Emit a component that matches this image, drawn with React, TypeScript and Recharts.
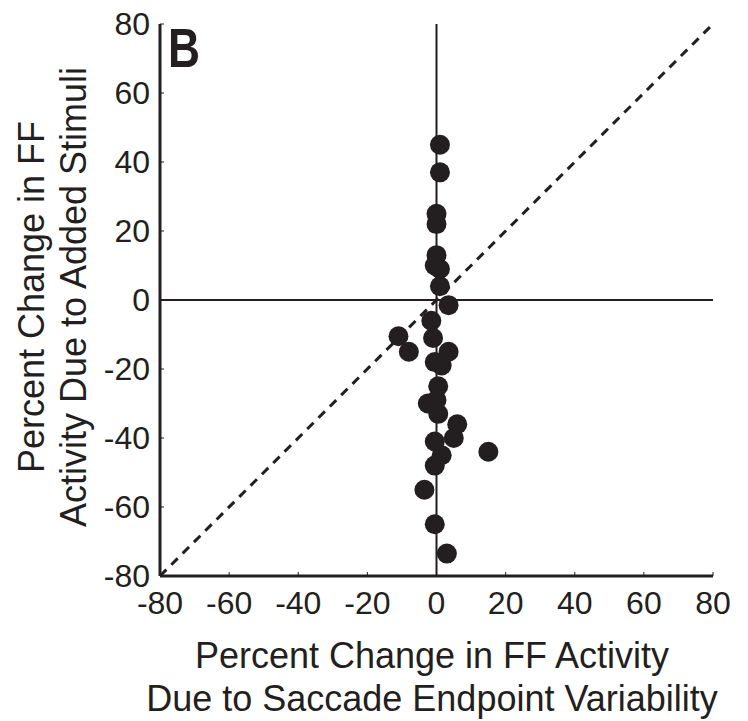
import React from 'react';
import {
  ScatterChart,
  Scatter,
  XAxis,
  YAxis,
  ReferenceLine,
} from 'recharts';

// percent change in FF activity: saccade endpoint variability (x) vs added stimuli (y)
const xValues = [1, 1, 0, 0, 0, -0.5, 1, 1, 3.5, -1.5, -1, -11, -8, 3.5, -0.5, 1.5, 0.5, -2.5, 0, 0.5, 6, 5, -0.5, 1.5, 15, -0.5, -3.5, -0.5, 3];
const yValues = [45, 37, 25, 22, 13, 10, 9, 4, -1.5, -6, -11, -10.5, -15, -15, -18, -19, -25, -30, -29, -33, -36, -40, -41, -45, -44, -48, -55, -65, -73.5];
const axisTicks = [-80, -60, -40, -20, 0, 20, 40, 60, 80];
const diagonal = [-80, 80];

const points = xValues.map((x, i) => ({ x, y: yValues[i] }));

const INK = '#231f20';
const FONT = '"Liberation Sans", Arial, Helvetica, sans-serif';

const Dot = (props: any) => {
  const { cx, cy } = props;
  if (cx == null || cy == null) return null;
  return <circle cx={cx} cy={cy} r={10} fill={INK} />;
};

export default function App() {
  return (
    <div style={{ position: 'absolute', left: 0, top: 0, width: 748, height: 721, background: '#fff' }}>
      <ScatterChart
        width={748}
        height={721}
        margin={{ top: 24, right: 35, left: 100, bottom: 105 }}
      >
        <XAxis
          type="number"
          dataKey="x"
          domain={[-80, 80]}
          ticks={axisTicks}
          allowDataOverflow
          height={40}
          stroke={INK}
          axisLine={{ stroke: INK, strokeWidth: 3 }}
          tickLine={{ stroke: INK, strokeWidth: 1 }}
          tickSize={-4}
          tickMargin={19}
          tick={{ fill: INK, fontSize: 32, fontFamily: FONT }}
        />
        <YAxis
          type="number"
          dataKey="y"
          domain={[-80, 80]}
          ticks={axisTicks}
          allowDataOverflow
          width={60}
          stroke={INK}
          axisLine={{ stroke: INK, strokeWidth: 3 }}
          tickLine={{ stroke: INK, strokeWidth: 1 }}
          tickSize={-4}
          tickMargin={14}
          tick={{ fill: INK, fontSize: 32, fontFamily: FONT }}
        />
        <ReferenceLine x={0} stroke={INK} strokeWidth={2} />
        <ReferenceLine y={0} stroke={INK} strokeWidth={2} />
        <ReferenceLine
          segment={[{ x: diagonal[0], y: diagonal[0] }, { x: diagonal[1], y: diagonal[1] }]}
          stroke={INK}
          strokeWidth={3}
          strokeDasharray="9 7"
        />
        <Scatter data={points} shape={<Dot />} isAnimationActive={false} />
      </ScatterChart>

      <svg
        width={748}
        height={721}
        style={{ position: 'absolute', left: 0, top: 0, pointerEvents: 'none' }}
      >
        <text x={168} y={67} fontFamily={FONT} fontWeight="bold" fontSize={55} fill={INK} textLength={32} lengthAdjust="spacingAndGlyphs">
          B
        </text>
        <g fontFamily={FONT} fontSize={36} fill={INK} textAnchor="middle">
          <text x={432} y={668}>Percent Change in FF Activity</text>
          <text x={432} y={711}>Due to Saccade Endpoint Variability</text>
          <text transform="translate(44, 297) rotate(-90)">Percent Change in FF</text>
          <text transform="translate(86, 297) rotate(-90)">Activity Due to Added Stimuli</text>
        </g>
      </svg>
    </div>
  );
}
